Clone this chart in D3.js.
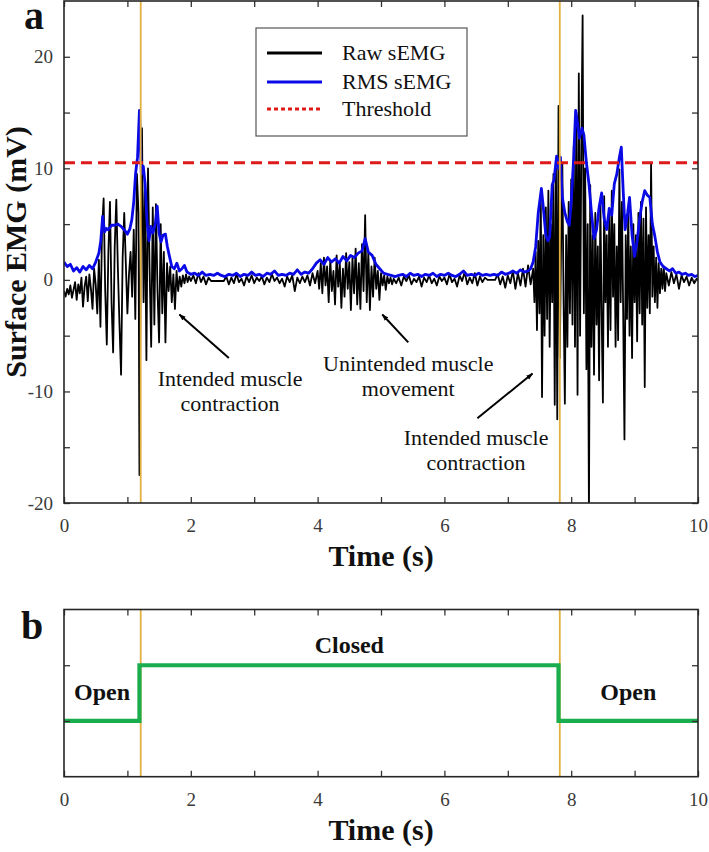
<!DOCTYPE html>
<html>
<head>
<meta charset="utf-8">
<script src="https://cdn.jsdelivr.net/npm/d3@7/dist/d3.min.js"></script>
<style>
  html, body { margin: 0; padding: 0; background: #fff; }
  svg { display: block; }
  text { font-family: "Liberation Serif", "Times New Roman", serif; }
</style>
</head>
<body>
<svg id="chart" width="709" height="852"></svg>
<script>
// ---------------- DATA ----------------
// Raw sEMG [time (s), mV]
const rawBurst1 = [
  [0.00,-1.0],[0.025,-1.5],[0.05,-0.8],[0.075,-1.3],[0.10,-0.5],[0.125,-1.6],[0.15,-0.9],[0.175,-0.2],
  [0.20,-1.8],[0.225,-0.4],[0.25,-1.2],[0.275,0.2],[0.30,-2.4],[0.325,-0.6],[0.35,0.3],[0.375,-1.9],
  [0.40,0.5],[0.425,-0.8],[0.45,-2.6],[0.475,1.0],[0.50,-0.4],[0.525,-3.0],[0.55,1.8],[0.575,-4.2],
  [0.60,4.5],[0.625,7.3],[0.65,-1.0],[0.675,-5.8],[0.70,2.5],[0.725,7.0],[0.75,-2.0],[0.775,-6.5],
  [0.80,3.0],[0.825,7.2],[0.85,1.0],[0.875,-4.0],[0.90,-8.5],[0.925,2.0],[0.95,6.0],[0.975,1.5],
  [1.00,-3.0],[1.025,0.5],[1.05,2.5],[1.075,-1.5],[1.10,4.5],[1.125,-3.5],[1.15,9.5],[1.175,6.0],
  [1.19,-17.5],[1.21,3.0],[1.23,13.6],[1.255,-2.0],[1.275,8.0],[1.30,-7.2],[1.325,10.0],[1.35,1.0],
  [1.375,-6.0],[1.40,6.5],[1.425,-4.0],[1.45,6.8],[1.475,-1.0],[1.50,-5.6],[1.525,5.0],[1.55,-3.0],
  [1.575,2.5],[1.60,-5.6],[1.625,1.5],[1.65,-1.0],[1.675,1.2],[1.70,-2.0],[1.725,0.5],[1.75,-2.6],
  [1.775,0.8],[1.80,-1.0],[1.825,0.3],[1.85,-0.6],[1.875,0.4],[1.90,-0.3],[1.925,0.5],[1.95,-0.2],
  [1.975,0.3],[2.00,-0.1]
];
const rawQuiet1 = [
  [2.04,0.4],[2.08,-0.3],[2.12,0.6],[2.16,-0.2],[2.20,0.3],[2.24,-0.4],[2.28,0.2],[2.32,-0.1],
  [2.36,-0.1],[2.44,-0.1],[2.52,-0.1],[2.56,0.3],[2.60,-0.4],[2.64,0.2],[2.68,-0.3],[2.72,0.5],
  [2.76,-0.2],[2.80,0.1],[2.84,-0.5],[2.88,0.3],[2.92,-0.2],[2.96,0.4],[3.00,-0.3],[3.04,0.2],
  [3.08,-0.1],[3.12,0.3],[3.16,-0.4],[3.20,0.2],[3.24,-0.2],[3.28,0.5],[3.32,-0.1],[3.36,0.2],
  [3.40,-0.3],[3.44,0.1],[3.48,-0.6],[3.52,0.3],[3.56,-0.2],[3.60,0.4],[3.64,-1.0],[3.68,0.2],
  [3.72,-0.3],[3.76,0.3],[3.80,-0.2],[3.84,0.4],[3.88,-0.5],[3.92,0.6],[3.96,-0.3],[4.00,0.8]
];
const rawUnintended = [
  [4.025,-0.8],[4.05,1.5],[4.075,-1.2],[4.10,2.0],[4.125,-0.5],[4.15,1.2],[4.175,-2.0],[4.20,1.8],
  [4.225,-1.0],[4.25,0.8],[4.275,-2.2],[4.30,2.2],[4.325,-0.6],[4.35,1.5],[4.375,-2.5],[4.40,1.0],
  [4.425,-1.5],[4.45,2.4],[4.475,-0.8],[4.50,1.6],[4.525,-2.7],[4.55,2.0],[4.575,-1.2],[4.60,2.8],
  [4.625,-2.2],[4.65,1.5],[4.675,-2.6],[4.70,3.2],[4.725,-1.0],[4.75,5.8],[4.775,-2.0],[4.80,2.5],
  [4.825,-2.7],[4.85,1.2],[4.875,-1.5],[4.90,2.0],[4.925,-0.8],[4.95,0.8],[4.975,-1.8],[5.00,0.6],
  [5.025,-0.5],[5.05,0.4],[5.075,-0.9],[5.10,0.3],[5.125,-0.3],[5.15,0.2],[5.175,-0.4],[5.20,0.1]
];
const rawQuiet2 = [
  [5.24,-0.3],[5.28,0.2],[5.32,-0.5],[5.36,0.3],[5.40,-0.1],[5.44,0.4],[5.48,-0.4],[5.52,0.1],
  [5.56,-0.2],[5.60,0.3],[5.64,-0.6],[5.68,0.2],[5.72,-0.2],[5.76,0.4],[5.80,-0.3],[5.84,0.1],
  [5.88,-0.5],[5.92,0.3],[5.96,-0.1],[6.00,0.2],[6.04,-0.4],[6.08,0.5],[6.12,-0.2],[6.16,0.1],
  [6.20,-0.6],[6.24,0.4],[6.28,-0.1],[6.32,0.7],[6.36,-0.4],[6.40,0.2],[6.44,-0.3],[6.48,0.6],
  [6.52,-0.5],[6.56,0.3],[6.60,-0.2],[6.64,0.2],[6.68,0.0],[6.72,0.0],[6.80,0.0],[6.84,0.5],
  [6.88,-0.4],[6.92,0.3],[6.96,-0.7],[7.00,0.4],[7.04,-0.3],[7.08,0.8],[7.12,-0.8],[7.16,0.6],
  [7.20,-0.5],[7.24,1.0],[7.28,-0.6],[7.32,1.3],[7.36,-0.4]
];
const rawBurst2 = [
  [7.40,1.0],[7.42,-2.0],[7.44,2.5],[7.46,-4.5],[7.48,3.5],[7.50,-3.0],[7.52,7.5],[7.54,-10.5],
  [7.56,4.0],[7.58,-5.0],[7.60,6.5],[7.62,-3.5],[7.64,8.0],[7.66,-6.0],[7.68,5.0],[7.70,-2.0],
  [7.72,9.5],[7.74,-11.2],[7.76,10.0],[7.78,-12.5],[7.80,15.6],[7.82,-7.0],[7.84,3.0],[7.86,10.5],
  [7.88,-2.0],[7.90,-11.1],[7.92,4.0],[7.94,-6.0],[7.96,7.0],[7.98,-3.0],[8.00,9.0],[8.02,-4.0],
  [8.04,12.0],[8.06,-6.0],[8.08,15.0],[8.10,-10.3],[8.12,18.5],[8.14,-5.0],[8.16,12.0],[8.18,23.7],
  [8.20,-3.0],[8.22,10.0],[8.24,-8.0],[8.26,5.0],[8.28,-21.0],[8.30,8.5],[8.32,-6.0],[8.34,4.0],
  [8.36,-8.5],[8.38,6.0],[8.40,-4.0],[8.42,3.0],[8.44,-9.0],[8.46,7.0],[8.48,-3.0],[8.50,-11.0],
  [8.52,7.5],[8.54,-2.0],[8.56,4.0],[8.58,-6.0],[8.60,6.0],[8.62,-4.5],[8.64,8.0],[8.66,-1.5],
  [8.68,5.0],[8.70,-6.0],[8.72,3.0],[8.74,-5.4],[8.76,9.9],[8.78,-2.0],[8.80,7.0],[8.82,-3.0],
  [8.84,-14.3],[8.86,4.0],[8.88,-3.5],[8.90,6.5],[8.92,-5.0],[8.94,3.0],[8.96,-7.0],[8.98,5.0],
  [9.00,-2.0],[9.02,4.0],[9.04,-5.5],[9.06,6.0],[9.08,-3.0],[9.10,7.0],[9.12,-4.0],[9.14,5.5],
  [9.16,-9.6],[9.18,6.5],[9.20,-2.5],[9.22,4.0],[9.24,-3.0],[9.26,10.5],[9.28,-1.5],[9.30,3.0],
  [9.32,-2.0],[9.34,2.0],[9.36,-2.5],[9.38,1.5],[9.40,-1.2],[9.42,1.0],[9.44,-0.8],[9.46,1.2],
  [9.48,-1.0],[9.50,0.6]
];
const rawQuiet3 = [
  [9.54,-0.5],[9.58,0.7],[9.62,-0.3],[9.66,0.5],[9.70,-0.8],[9.74,0.4],[9.78,-0.2],[9.82,0.3],
  [9.86,-0.5],[9.90,0.2],[9.94,-0.3],[9.98,0.1],[10.0,-0.1]
];
// RMS sEMG [time (s), mV]
const rmsSeries = [
  [0.00,1.6],[0.05,1.2],[0.10,1.4],[0.15,0.8],[0.20,1.1],[0.25,0.7],[0.30,1.2],[0.35,0.9],[0.40,1.3],
  [0.45,1.0],[0.50,1.6],[0.55,2.4],[0.58,3.5],[0.61,5.7],[0.64,4.3],[0.67,4.6],[0.70,4.5],[0.75,4.9],
  [0.80,4.9],[0.85,5.0],[0.90,4.8],[0.95,4.5],[1.00,4.1],[1.04,4.6],[1.07,5.4],[1.10,7.0],[1.13,9.6],
  [1.16,11.0],[1.19,15.2],[1.22,9.5],[1.25,10.2],[1.28,8.6],[1.31,5.2],[1.34,3.5],[1.37,4.8],[1.40,4.2],
  [1.44,5.0],[1.47,6.6],[1.50,4.2],[1.53,3.4],[1.56,4.0],[1.60,4.1],[1.63,3.0],[1.66,2.2],[1.70,1.2],
  [1.74,1.0],[1.78,1.5],[1.82,0.8],[1.86,1.0],[1.90,1.3],[1.94,0.7],[2.00,0.5],[2.06,0.6],[2.12,0.4],
  [2.18,0.7],[2.24,0.4],[2.30,0.5],[2.36,0.4],[2.42,0.6],[2.48,0.4],[2.54,0.3],[2.60,0.5],[2.66,0.4],
  [2.72,0.6],[2.78,0.3],[2.84,0.5],[2.90,0.4],[2.96,0.7],[3.02,0.4],[3.08,0.5],[3.14,0.3],[3.20,0.6],
  [3.26,0.5],[3.32,0.8],[3.38,0.4],[3.44,0.5],[3.50,0.4],[3.56,0.6],[3.62,0.5],[3.68,0.9],[3.74,0.5],
  [3.80,0.7],[3.86,0.6],[3.92,1.0],[3.98,1.5],[4.04,1.8],[4.10,1.4],[4.16,2.0],[4.22,1.6],[4.28,1.9],
  [4.34,1.5],[4.40,2.1],[4.46,1.7],[4.52,2.2],[4.58,2.0],[4.64,2.4],[4.70,2.6],[4.75,3.7],[4.80,2.5],
  [4.86,2.2],[4.92,1.4],[4.98,1.0],[5.04,0.6],[5.10,0.5],[5.16,0.4],[5.22,0.3],[5.28,0.4],[5.34,0.5],
  [5.40,0.3],[5.46,0.6],[5.52,0.4],[5.58,0.5],[5.64,0.3],[5.70,0.5],[5.76,0.4],[5.82,0.6],[5.88,0.3],
  [5.94,0.5],[6.00,0.4],[6.06,0.6],[6.12,0.4],[6.18,0.3],[6.24,0.5],[6.30,0.8],[6.36,0.4],[6.42,0.5],
  [6.48,0.4],[6.54,0.6],[6.60,0.4],[6.66,0.5],[6.72,0.4],[6.78,0.5],[6.84,0.4],[6.90,0.7],[6.96,0.5],
  [7.02,0.6],[7.08,0.8],[7.14,0.6],[7.20,0.9],[7.26,0.7],[7.32,0.8],[7.36,1.0],[7.40,1.6],[7.44,3.0],
  [7.48,6.0],[7.53,8.2],[7.56,6.5],[7.60,4.0],[7.63,3.5],[7.66,3.8],[7.70,8.5],[7.73,9.0],[7.77,11.1],
  [7.80,10.0],[7.83,11.0],[7.86,7.4],[7.90,6.0],[7.94,5.2],[7.97,4.9],[8.00,7.0],[8.04,11.0],[8.07,15.2],
  [8.10,14.0],[8.13,12.7],[8.17,13.6],[8.20,13.0],[8.24,10.5],[8.28,8.6],[8.32,6.0],[8.36,3.7],[8.40,4.5],
  [8.44,6.5],[8.48,7.8],[8.52,5.5],[8.56,4.5],[8.60,6.4],[8.64,5.8],[8.68,8.6],[8.72,9.5],[8.76,11.0],
  [8.79,11.9],[8.82,8.0],[8.85,4.5],[8.89,6.0],[8.92,7.4],[8.96,4.0],[9.00,2.1],[9.04,3.5],[9.08,5.5],
  [9.12,7.0],[9.16,8.0],[9.20,7.6],[9.24,7.4],[9.28,5.0],[9.32,3.9],[9.36,2.5],[9.40,1.6],[9.45,1.2],
  [9.50,1.0],[9.55,0.8],[9.60,1.0],[9.65,0.6],[9.70,0.7],[9.75,0.5],[9.80,0.6],[9.85,0.4],[9.90,0.5],
  [9.95,0.3],[10.0,0.4]
];
const thresholdValue = 10.5;
const switchTimes = [1.21, 7.82];
// Hand state: [time, level]  (1 = open, 2 = closed)
const handState = [[0,1],[1.19,1],[1.19,2],[7.80,2],[7.80,1],[10,1]];
const stateLabels = [
  {text:"Open", t:0.6, level:1.5},
  {text:"Closed", t:4.5, level:2.35},
  {text:"Open", t:8.9, level:1.5}
];
const xTickValues = [0,1,2,3,4,5,6,7,8,9,10];
const xTickLabels = [0,2,4,6,8,10];
const yTickValues = [-20,-15,-10,-5,0,5,10,15,20];
const yTickLabels = [-20,-10,0,10,20];
const legendItems = [
  {label:"Raw sEMG", key:"raw"},
  {label:"RMS sEMG", key:"rms"},
  {label:"Threshold", key:"thr"}
];
const annotations = [
  {lines:["Intended muscle","contraction"], tx:2.62, ty:-9.5, from:[2.6,-7.0], to:[1.82,-3.1]},
  {lines:["Unintended muscle","movement"], tx:5.43, ty:-8.2, from:[5.43,-5.6], to:[5.02,-3.1]},
  {lines:["Intended muscle","contraction"], tx:6.5, ty:-14.8, from:[6.52,-12.4], to:[7.39,-8.4]}
];

// ---------------- LAYOUT ----------------
const svg = d3.select("#chart");
const L = 64, R = 698;
const aTop = 1, aBot = 503;
const bTop = 609.5, bBot = 776.7;
const axisColor = "#262626";
const tickColor = "#333";

const x = d3.scaleLinear().domain([0,10]).range([L,R]);
const yA = d3.scaleLinear().domain([-20,25]).range([aBot,aTop]);
const yB = d3.scaleLinear().domain([0,3]).range([bBot,bTop]);

const defs = svg.append("defs");
defs.append("clipPath").attr("id","clipA").append("rect")
  .attr("x",L).attr("y",aTop).attr("width",R-L).attr("height",aBot-aTop);
defs.append("marker").attr("id","arrow").attr("viewBox","0 0 10 10")
  .attr("refX",9).attr("refY",5).attr("markerWidth",7).attr("markerHeight",7)
  .attr("orient","auto-start-reverse").attr("markerUnits","userSpaceOnUse")
  .append("path").attr("d","M0,1.5 L10,5 L0,8.5 Z").attr("fill","#000");

const raw = [].concat(rawBurst1, rawQuiet1, rawUnintended, rawQuiet2, rawBurst2, rawQuiet3);

// ---------- Panel a ----------
const gA = svg.append("g");
const plotA = gA.append("g").attr("clip-path","url(#clipA)");
const line = (ys) => d3.line().x(d=>x(d[0])).y(d=>ys(d[1]));

plotA.append("path").datum(raw).attr("d", line(yA))
  .attr("fill","none").attr("stroke","#000").attr("stroke-width",1.8).attr("stroke-linejoin","round");
plotA.append("path").datum(rmsSeries).attr("d", line(yA))
  .attr("fill","none").attr("stroke","#0a0ae6").attr("stroke-width",2.8).attr("stroke-linejoin","round");
plotA.append("line").attr("x1",L).attr("x2",R)
  .attr("y1",yA(thresholdValue)).attr("y2",yA(thresholdValue))
  .attr("stroke","#dd1a1a").attr("stroke-width",3).attr("stroke-dasharray","11,6");
plotA.selectAll(".sw").data(switchTimes).enter().append("line")
  .attr("x1",d=>x(d)).attr("x2",d=>x(d)).attr("y1",aTop).attr("y2",aBot)
  .attr("stroke","#e0b040").attr("stroke-width",1.8);

function drawAxes(g, ys, top, bot, yVals, yLabs) {
  const fmtX = d => xTickLabels.includes(d) ? String(d) : "";
  const fmtY = d => yLabs.includes(d) ? String(d) : "";
  const ab = g.append("g").attr("transform",`translate(0,${bot})`)
    .call(d3.axisBottom(x).tickValues(xTickValues).tickSize(-6).tickPadding(16).tickFormat(fmtX));
  const at = g.append("g").attr("transform",`translate(0,${top})`)
    .call(d3.axisTop(x).tickValues(xTickValues).tickSize(-6).tickFormat(""));
  const al = g.append("g").attr("transform",`translate(${L},0)`)
    .call(d3.axisLeft(ys).tickValues(yVals).tickSize(-6).tickPadding(11).tickFormat(fmtY));
  const ar = g.append("g").attr("transform",`translate(${R},0)`)
    .call(d3.axisRight(ys).tickValues(yVals).tickSize(-6).tickFormat(""));
  [ab,at,al,ar].forEach(a => {
    a.select(".domain").remove();
    a.selectAll(".tick line").attr("stroke",tickColor).attr("stroke-width",1.3);
    a.selectAll(".tick text").attr("font-size",19).attr("fill","#3a3a3a")
      .attr("font-family","'Liberation Serif','Times New Roman',serif");
  });
  g.append("rect").attr("x",L).attr("y",top).attr("width",R-L).attr("height",bot-top)
    .attr("fill","none").attr("stroke",axisColor).attr("stroke-width",1.6);
}
drawAxes(gA, yA, aTop, aBot, yTickValues, yTickLabels);

// legend
const lg = gA.append("g");
lg.append("rect").attr("x",256).attr("y",28).attr("width",211).attr("height",108)
  .attr("fill","#fff").attr("stroke","#555").attr("stroke-width",1.2);
const legY = [53, 82, 109];
legendItems.forEach((it,i) => {
  const ln = lg.append("line").attr("x1",267).attr("x2",322).attr("y1",legY[i]).attr("y2",legY[i]);
  if (it.key==="raw") ln.attr("stroke","#000").attr("stroke-width",3);
  if (it.key==="rms") ln.attr("stroke","#0a0ae6").attr("stroke-width",3);
  if (it.key==="thr") ln.attr("stroke","#dd1a1a").attr("stroke-width",3).attr("stroke-dasharray","4,3");
  lg.append("text").attr("x",342).attr("y",legY[i]+7).attr("font-size",22).attr("fill","#111").text(it.label);
});

// annotations
annotations.forEach(a => {
  gA.append("line").attr("x1",x(a.from[0])).attr("y1",yA(a.from[1]))
    .attr("x2",x(a.to[0])).attr("y2",yA(a.to[1]))
    .attr("stroke","#000").attr("stroke-width",2).attr("marker-end","url(#arrow)");
  const t = gA.append("text").attr("text-anchor","middle").attr("font-size",22).attr("fill","#111");
  a.lines.forEach((s,i) => {
    t.append("tspan").attr("x",x(a.tx)).attr("y",yA(a.ty)+i*25).text(s);
  });
});

// axis titles panel a
svg.append("text").attr("transform",`translate(${(L+R)/2},566)`).attr("text-anchor","middle")
  .attr("font-size",30).attr("font-weight","bold").attr("fill","#111").text("Time (s)");
svg.append("text").attr("transform",`translate(26,${(aTop+aBot)/2}) rotate(-90)`).attr("text-anchor","middle")
  .attr("font-size",30).attr("font-weight","bold").attr("fill","#111").text("Surface EMG (mV)");
svg.append("text").attr("x",24).attr("y",29).attr("font-size",40).attr("font-weight","bold").attr("fill","#111").text("a");

// ---------- Panel b ----------
const gB = svg.append("g");
gB.selectAll(".swb").data(switchTimes).enter().append("line")
  .attr("x1",d=>x(d)).attr("x2",d=>x(d)).attr("y1",bTop).attr("y2",bBot)
  .attr("stroke","#e0b040").attr("stroke-width",1.8);
gB.append("path").datum(handState).attr("d", line(yB))
  .attr("fill","none").attr("stroke","#1aad4e").attr("stroke-width",4.2);
drawAxes(gB, yB, bTop, bBot, [1,2], []);
stateLabels.forEach(s => {
  gB.append("text").attr("x",x(s.t)).attr("y",yB(s.level)+7).attr("text-anchor","middle")
    .attr("font-size",24).attr("font-weight","bold").attr("fill","#111").text(s.text);
});
svg.append("text").attr("transform",`translate(${(L+R)/2},840)`).attr("text-anchor","middle")
  .attr("font-size",30).attr("font-weight","bold").attr("fill","#111").text("Time (s)");
svg.append("text").attr("x",21).attr("y",639).attr("font-size",40).attr("font-weight","bold").attr("fill","#111").text("b");
</script>
</body>
</html>
